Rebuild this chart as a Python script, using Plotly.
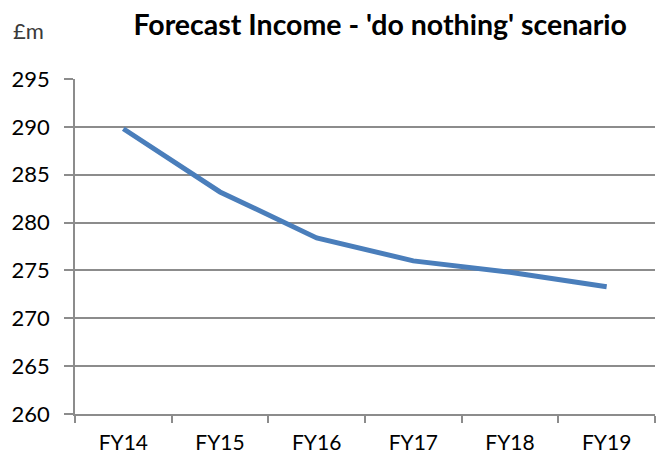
import plotly.graph_objects as go

categories = ["FY14", "FY15", "FY16", "FY17", "FY18", "FY19"]
income = [289.8, 283.2, 278.4, 276.0, 274.8, 273.3]
y_ticks = [260, 265, 270, 275, 280, 285, 290, 295]

fig = go.Figure()
fig.add_trace(go.Scatter(
    x=categories, y=income, mode="lines",
    line=dict(color="#4A7EBB", width=5),
    showlegend=False, hoverinfo="x+y",
))

grid = "#8C8C8C"
fig.update_layout(
    width=667, height=459,
    margin=dict(l=75, r=12, t=79, b=45, autoexpand=False),
    paper_bgcolor="white", plot_bgcolor="white",
    font=dict(family="Lato, Open Sans, sans-serif", size=22, color="#000000"),
    title=dict(text="<b>Forecast Income - 'do nothing' scenario</b>",
               x=0.57, xanchor="center", y=0.945, yanchor="middle",
               font=dict(size=28.5, color="#000000")),
    xaxis=dict(
        type="category", tickson="boundaries", automargin=False,
        showgrid=False, showline=True, linecolor=grid, linewidth=1.5,
        ticks="outside", ticklen=7, tickcolor=grid, tickwidth=1.5,
        tickfont=dict(size=21, color="#000000"), ticklabelstandoff=9,
        range=[-0.5, 5.5], fixedrange=True,
    ),
    yaxis=dict(
        range=[260, 295], tickvals=y_ticks, automargin=False,
        showgrid=True, gridcolor=grid, gridwidth=1.5,
        showline=True, linecolor=grid, linewidth=1.5,
        ticks="outside", ticklen=9, tickcolor=grid, tickwidth=1.5,
        tickfont=dict(size=22, color="#000000"), ticklabelstandoff=10,
        zeroline=False, fixedrange=True,
    ),
    annotations=[dict(text="£m", xref="paper", yref="paper", x=-0.11, y=1.145,
                      xanchor="left", yanchor="middle", showarrow=False,
                      font=dict(size=22, color="#3A3A3A"))],
)

fig.write_html("out.html")
